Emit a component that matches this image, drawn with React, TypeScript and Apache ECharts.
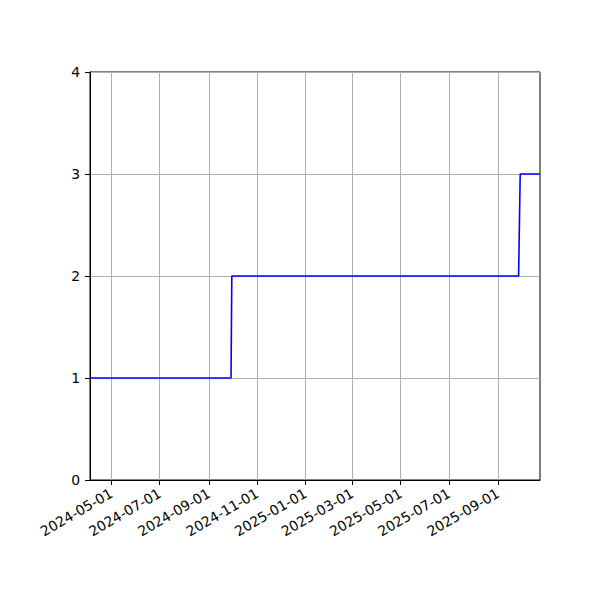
import React, { useEffect, useRef } from "react";
import * as echarts from "echarts";

const dates = ["2024-04-04", "2024-09-29", "2024-09-30", "2025-09-27", "2025-09-29", "2025-10-24"];
const values = [1, 1, 2, 2, 3, 3];
const xTickLabels = [
  "2024-05-01", "2024-07-01", "2024-09-01", "2024-11-01", "2025-01-01",
  "2025-03-01", "2025-05-01", "2025-07-01", "2025-09-01",
];
const xMinDate = "2024-04-04";
const xMaxDate = "2025-10-24";
const yTicks = [0, 1, 2, 3, 4];

const toTs = (s: string) => {
  const [y, m, d] = s.split("-").map(Number);
  return Date.UTC(y, m - 1, d);
};
const fmt = (v: number) => {
  const d = new Date(v);
  const p = (n: number) => String(n).padStart(2, "0");
  return `${d.getUTCFullYear()}-${p(d.getUTCMonth() + 1)}-${p(d.getUTCDate())}`;
};

export default function App() {
  const ref = useRef<HTMLDivElement>(null);
  useEffect(() => {
    document.body.style.margin = "0";
    const chart = echarts.init(ref.current!, null, { renderer: "svg" });
    const tickTs = xTickLabels.map(toTs);
    chart.setOption({
      animation: false,
      backgroundColor: "#ffffff",
      textStyle: { fontFamily: "DejaVu Sans" },
      grid: {
        left: 90, right: 60, top: 72, bottom: 120,
        show: true, borderColor: "#000000", borderWidth: 1, backgroundColor: "transparent",
      },
      xAxis: {
        type: "value",
        min: toTs(xMinDate),
        max: toTs(xMaxDate),
        axisLine: { show: true, onZero: false, lineStyle: { color: "#000", width: 1 } },
        axisTick: { show: true, length: 5, customValues: tickTs, lineStyle: { color: "#000", width: 1 } },
        axisLabel: {
          customValues: tickTs,
          formatter: (v: number) => fmt(v),
          rotate: 30,
          margin: 12,
          fontSize: 13.9,
          color: "#000",
          fontFamily: "DejaVu Sans",
        },
        splitLine: { show: true, lineStyle: { color: "#b0b0b0", width: 1 } },
      },
      yAxis: {
        type: "value",
        min: yTicks[0],
        max: yTicks[yTicks.length - 1],
        interval: 1,
        axisLine: { show: true, lineStyle: { color: "#000", width: 1 } },
        axisTick: { show: true, length: 5, lineStyle: { color: "#000", width: 1 } },
        axisLabel: { margin: 10, fontSize: 13.9, color: "#000", fontFamily: "DejaVu Sans" },
        splitLine: { show: true, lineStyle: { color: "#b0b0b0", width: 1 } },
      },
      series: [
        {
          type: "line",
          data: dates.map((d, i) => [toTs(d), values[i]]),
          showSymbol: false,
          symbol: "none",
          lineStyle: { color: "#0000ff", width: 1.6 },
          z: 5,
        },
      ],
    });
    return () => chart.dispose();
  }, []);
  return <div ref={ref} style={{ width: 600, height: 600 }} />;
}
